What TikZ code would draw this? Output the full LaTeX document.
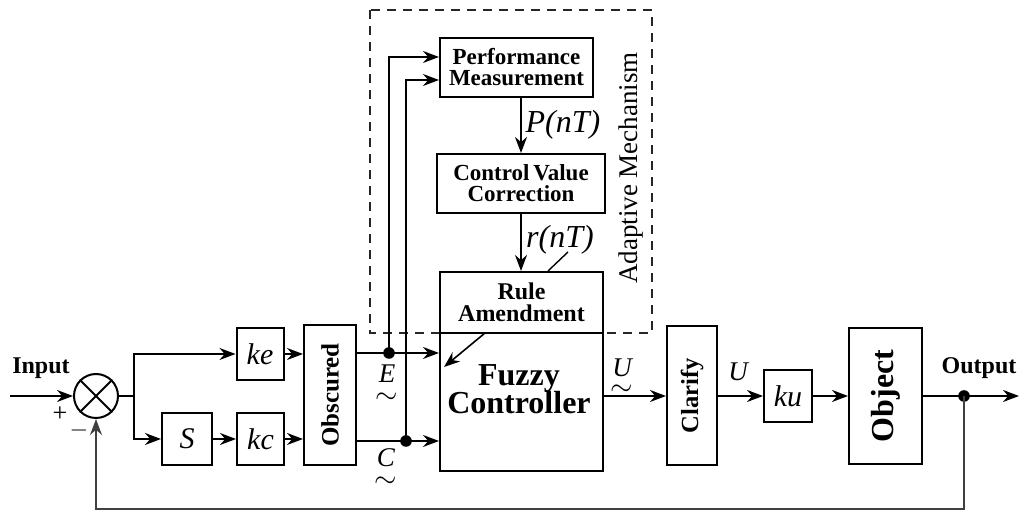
\documentclass[tikz,border=0pt]{standalone}
\usepackage{fontspec}
\setmainfont{Liberation Serif}
\usetikzlibrary{arrows.meta,positioning,calc}
\newcommand{\fsz}[1]{\fontsize{#1}{#1}\selectfont}
\tikzset{
  blk/.style={rectangle, draw=black, line width=1pt, inner sep=0pt, align=center,
              font=\bfseries\fsz{12}},
  gain/.style={blk, minimum width=23.5pt, minimum height=26pt, font=\itshape\fsz{15}},
  tall/.style={blk, rotate=90},
  lbl/.style={font=\bfseries\fsz{12}},
  sym/.style={font=\itshape\fsz{15}, align=center, inner sep=0pt},
  flow/.style={-{Stealth[length=8pt, width=6pt]}, line width=0.9pt},
  adapt/.style={draw=black!85, line width=0.9pt, dash pattern=on 4.5pt off 3.5pt},
  dot/.style={fill=black}
}

\begin{document}
\begin{tikzpicture}[x=0.5pt, y=-0.5pt]
 \useasboundingbox (0,0) rectangle (1019,512);
 % adaptive mechanism
 \draw[adapt] (370,10) rectangle (652,333);
 \node[font=\fsz{13.5}, rotate=90] (adTxt) at (631,168) {Adaptive Mechanism};
 \node[blk, minimum width=76.5pt, minimum height=29.5pt, font=\bfseries\fsz{11.5}] (perf) at (516.5,67.5) {Performance\\[-1pt]Measurement};
 \node[blk, minimum width=84pt, minimum height=29.5pt, font=\bfseries\fsz{11.5}] (cvc) at (521,183.5) {Control\,Value\\[-1pt]Correction};
 \node[blk, minimum width=81.5pt, minimum height=30.5pt, fill=white] (rule) at (521.5,302.5) {Rule\\[-1pt]Amendment};
 \node[blk, minimum width=81.5pt, minimum height=69pt] (fuzzy) at (521.5,402) {};
 \node[font=\bfseries\fsz{16}, align=center] (fuzzyTxt) at (519,389) {Fuzzy\\[-2pt]Controller};
 % main loop
 \node[circle, draw, line width=1pt, minimum size=22pt, inner sep=0pt] (sum) at (96,396) {};
 \draw[line width=1pt] (sum.north west) -- (sum.south east) (sum.north east) -- (sum.south west);
 \node[gain] (ke) at (260,354) {ke};
 \node[gain, minimum width=25pt] (S) at (187,439) {S};
 \node[gain] (kc) at (260.5,439) {kc};
 \node[tall, minimum width=70pt, minimum height=26pt, font=\bfseries\fsz{12.5}] (obs) at (330,395) {Obscured};
 \node[tall, minimum width=69.5pt, minimum height=25pt, font=\bfseries\fsz{12.3}] (clar) at (692,396) {Clarify};
 \node[gain, minimum width=24pt] (ku) at (788,396) {ku};
 \node[tall, minimum width=68pt, minimum height=36.5pt, font=\bfseries\fsz{16}] (obj) at (885.5,396) {Object};
 % labels
 \node[lbl] (inTxt) at (41,368) {Input};
 \node[lbl] (outTxt) at (979,368) {Output};
 \node[font=\fsz{13}] (plus) at (60,414) {+};
 \node[font=\fsz{13}] (minus) at (79,431) {$-$};
 \node[sym, font=\itshape\fsz{16}] (pLbl) at (563,125) {P(nT)};
 \node[sym, font=\itshape\fsz{16}] (rLbl) at (560,240) {r(nT)};
 \node[sym, font=\itshape\fsz{13.5}] (eLbl) at (387,384) {E\\[-3pt]$\sim$};
 \node[sym, font=\itshape\fsz{13.5}] (cLbl) at (386,468) {C\\[-3pt]$\sim$};
 \node[sym, font=\itshape\fsz{13.5}] (uLbl) at (622,377) {U\\[-4pt]$\sim$};
 \node[sym, font=\itshape\fsz{13.5}] (u2Lbl) at (738,372) {U};
 % points
 \coordinate (inStart) at (10,396);
 \coordinate (br) at (134,396);
 \coordinate (eDot) at (389,353);
 \coordinate (cDot) at (406,441);
 \coordinate (oDot) at (964,396);
 \coordinate (outEnd) at (1019,396);
 \coordinate (fbCorner) at (964,509);
 \coordinate (ruleOut) at (485,333);
 \coordinate (fuzzyIn) at (444,367);
 \coordinate (rTip) at (548,271);
 \coordinate (rFoot) at (568,252);
 % connectors
 \draw[flow] (inStart) -- (sum.west);
 \draw[line width=0.9pt] (sum.east) -- (br);
 \draw[flow] (br) |- (ke.west);
 \draw[flow] (br) |- (S.west);
 \draw[flow] (S) -- (kc);
 \draw[flow] (ke) -- (ke -| obs.north);
 \draw[flow] (kc) -- (kc -| obs.north);
 \draw[flow] (obs.south |- eDot) -- (fuzzy.west |- eDot);
 \draw[flow] (obs.south |- cDot) -- (fuzzy.west |- cDot);
 \draw[flow] (eDot) |- ([yshift=5.25pt]perf.west);
 \draw[flow] (cDot) |- ([yshift=-6.25pt]perf.west);
 \fill[dot] (eDot) circle (2.9pt);
 \fill[dot] (cDot) circle (2.9pt);
 \draw[flow] (cvc.north |- perf.south) -- (cvc.north);
 \draw[flow] (cvc.south) -- (cvc.south |- rule.north);
 \draw[line width=0.7pt] (rTip) -- (rFoot);
 \draw[flow, line width=0.8pt] (ruleOut) -- (fuzzyIn);
 \draw[flow] (fuzzy.east |- clar) -- (clar.north);
 \draw[flow] (clar.south) -- (ku);
 \draw[flow] (ku) -- (obj.north);
 \draw[flow] (obj.south) -- (outEnd);
 \fill[dot] (oDot) circle (2.9pt);
 \draw[flow, draw=black!75] (oDot) -- (fbCorner) -| (sum.south);
\end{tikzpicture}
\end{document}
